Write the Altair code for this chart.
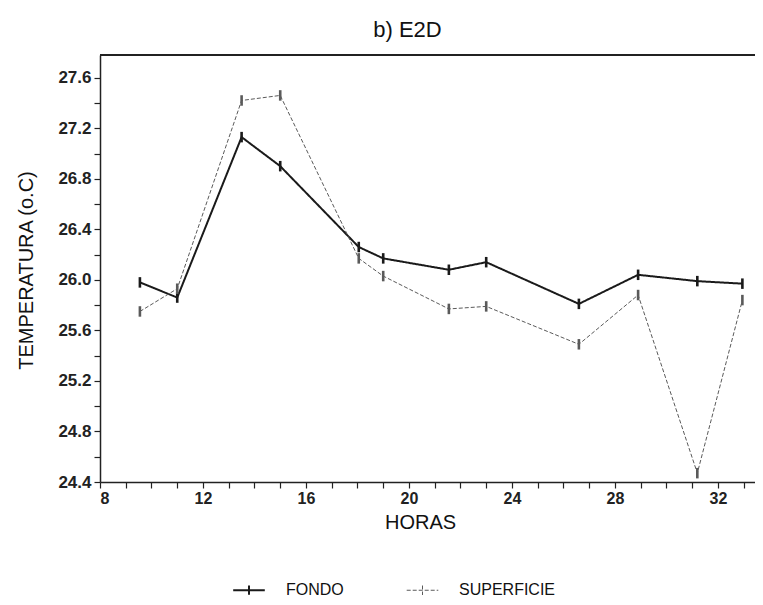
import altair as alt
import pandas as pd

horas = [9.55, 11.0, 13.5, 15.0, 18.05, 19.0, 21.55, 23.0, 26.6, 28.9, 31.2, 32.95]
fondo = [25.98, 25.86, 27.13, 26.90, 26.26, 26.17, 26.08, 26.14, 25.81, 26.04, 25.99, 25.97]
superficie = [25.75, 25.93, 27.42, 27.46, 26.17, 26.03, 25.77, 25.79, 25.49, 25.88, 24.47, 25.84]
series = ["FONDO", "SUPERFICIE"]

rows = []
for h, v in zip(horas, fondo):
    rows.append({"hora": h, "temp": v, "serie": series[0]})
for h, v in zip(horas, superficie):
    rows.append({"hora": h, "temp": v, "serie": series[1]})
df = pd.DataFrame(rows)

W, H = 655, 427
FONT = "Liberation Sans"

x_ticks = list(range(8, 34))
y_ticks = [round(24.4 + 0.2 * i, 1) for i in range(17)]

legend_path = "M-1,0L1,0M0,-0.3L0,0.3"

x_enc = alt.X(
    "hora:Q",
    scale=alt.Scale(domain=[8, 33.44], nice=False, zero=False),
    axis=alt.Axis(
        title="HORAS",
        values=x_ticks,
        labelExpr="datum.value % 4 == 0 ? datum.label : ''",
        grid=False,
        tickSize=6,
        labelPadding=2,
        titleX=320,
        titleY=40,
        titleAlign="center",
        titleBaseline="middle",
    ),
)
y_enc = alt.Y(
    "temp:Q",
    scale=alt.Scale(domain=[24.4, 27.78], nice=False, zero=False),
    axis=alt.Axis(
        title="TEMPERATURA (o.C)",
        values=y_ticks,
        labelExpr="round(datum.value*10) % 4 == 0 ? format(datum.value, '.1f') : ''",
        grid=False,
        tickSize=6,
        labelPadding=3,
        labelFontSize=17,
        titleX=-74,
        titleY=215,
        titleAngle=-90,
        titleAlign="center",
        titleBaseline="middle",
    ),
)

color_scale = alt.Scale(domain=series, range=["#1a1a1a", "#5a5a5a"])

legend_kw = dict(
    title=None,
    orient="none",
    direction="horizontal",
    legendX=132,
    legendY=518,
    symbolType=legend_path,
    symbolSize=1000,
    symbolStrokeWidth=1.6,
    labelFontSize=16,
    labelFont=FONT,
    labelColor="#111",
    columnPadding=60,
    labelOffset=20,
)

lines = alt.Chart(df).mark_line().encode(
    x=x_enc,
    y=y_enc,
    color=alt.Color("serie:N", scale=color_scale, legend=alt.Legend(**legend_kw)),
    strokeDash=alt.StrokeDash(
        "serie:N",
        scale=alt.Scale(domain=series, range=[[1, 0], [4, 2]]),
        legend=alt.Legend(**legend_kw),
    ),
    strokeWidth=alt.StrokeWidth(
        "serie:N",
        scale=alt.Scale(domain=series, range=[2.0, 1.0]),
        legend=None,
    ),
)

markers = alt.Chart(df).mark_point(
    shape="M0,-1L0,1", filled=False, size=110, strokeWidth=2.6, opacity=1
).encode(
    x=x_enc,
    y=y_enc,
    color=alt.Color("serie:N", scale=color_scale, legend=None),
)

top_line = alt.Chart(df).mark_rule(color="#222", strokeWidth=1.5).encode(
    x=alt.value(0), x2=alt.value(W), y=alt.value(0)
)

chart = (
    alt.layer(lines, markers, top_line)
    .properties(
        width=W,
        height=H,
        autosize=alt.AutoSizeParams(type="none"),
        padding={"left": 92, "top": 47, "right": 0, "bottom": 115},
        title=alt.Title(
            "b) E2D",
            fontSize=22,
            font=FONT,
            fontWeight="normal",
            color="#111",
            anchor="middle",
            dx=-20,
            offset=12,
        ),
    )
    .configure_view(stroke=None)
    .configure_axis(
        domainColor="#222",
        domainWidth=1.5,
        tickColor="#222",
        tickWidth=1.2,
        labelFont=FONT,
        labelFontSize=16,
        labelFontWeight="bold",
        labelColor="#222",
        titleFont=FONT,
        titleFontSize=20,
        titleFontWeight="normal",
        titleColor="#111",
    )
)

chart.save("out.html", embed_options={"renderer": "svg", "actions": False})
